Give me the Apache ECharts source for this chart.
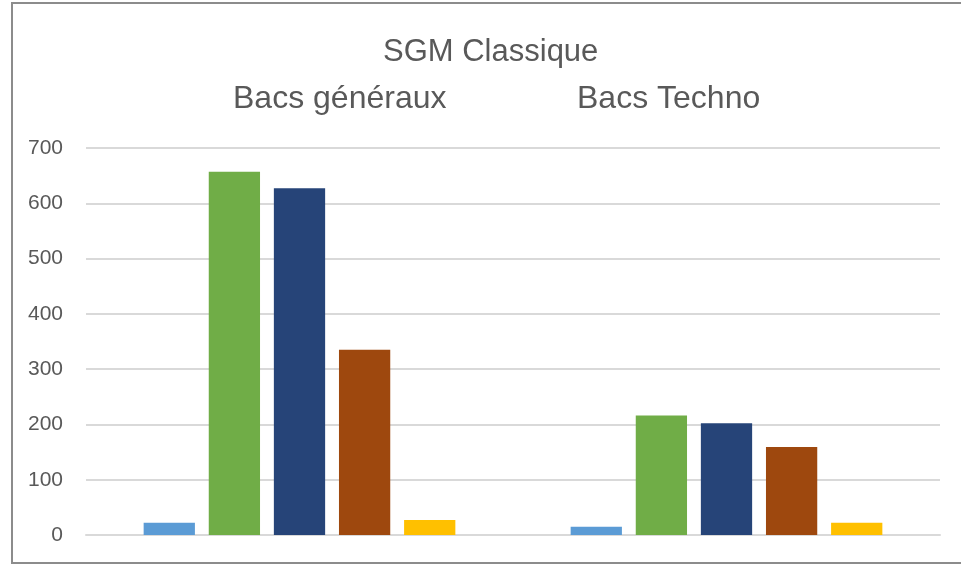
<!DOCTYPE html>
<html>
<head>
<meta charset="utf-8">
<title>SGM Classique</title>
<script src="https://cdn.jsdelivr.net/npm/echarts@6/dist/echarts.min.js"></script>
<style>
  html, body { margin: 0; padding: 0; background: #fff; }
  #main { width: 961px; height: 565px; }
</style>
</head>
<body>
<div id="main"></div>
<script>
// categories (groupes de bacs)
var categories = ["Bacs généraux", "Bacs Techno"];
// une série par couleur
var serie1 = [22, 15];
var serie2 = [657, 216];
var serie3 = [627, 202];
var serie4 = [335, 159];
var serie5 = [27, 22];
var seriesNames = ["Série 1", "Série 2", "Série 3", "Série 4", "Série 5"];
var seriesData = [serie1, serie2, serie3, serie4, serie5];
var colors = ["#5B9BD5", "#70AD47", "#264478", "#9E480E", "#FFC000"];
var yTicks = [0, 100, 200, 300, 400, 500, 600, 700];

var chart = echarts.init(document.getElementById("main"));

var font = "Liberation Sans";
var series = seriesData.map(function (d, i) {
  return {
    name: seriesNames[i],
    type: "bar",
    data: d,
    itemStyle: { color: colors[i] },
    barGap: "27%",
    barCategoryGap: "27%",
  };
});

var option = {
  animation: false,
  backgroundColor: "#fff",
  textStyle: { fontFamily: font },
  title: [
    {
      text: "SGM Classique",
      left: 378,
      top: 32,
      textStyle: { fontFamily: font, fontSize: 31, fontWeight: "normal", color: "#595959" },
    },
    {
      text: categories[0],
      left: 228,
      top: 78,
      textStyle: { fontFamily: font, fontSize: 32, fontWeight: "normal", color: "#595959" },
    },
    {
      text: categories[1],
      left: 572,
      top: 78,
      textStyle: { fontFamily: font, fontSize: 32, fontWeight: "normal", color: "#595959" },
    },
  ],
  graphic: [
    {
      type: "rect",
      silent: true,
      shape: { x: 12, y: 3, width: 960, height: 560 },
      style: { fill: "none", stroke: "#8c8c8c", lineWidth: 2 },
    },
  ],
  grid: {
    left: 86,
    right: 21,
    top: 148,
    bottom: 30,
  },
  xAxis: {
    type: "category",
    data: categories,
    axisLine: { show: true, lineStyle: { color: "#d9d9d9", width: 2 } },
    axisTick: { show: false },
    axisLabel: { show: false },
  },
  yAxis: {
    type: "value",
    min: yTicks[0],
    max: yTicks[yTicks.length - 1],
    interval: 100,
    axisLine: { show: false },
    axisTick: { show: false },
    axisLabel: { color: "#595959", fontSize: 21, fontFamily: font, margin: 23 },
    splitLine: { lineStyle: { color: "#d9d9d9", width: 2 } },
  },
  series: series,
};

chart.setOption(option);
</script>
</body>
</html>
